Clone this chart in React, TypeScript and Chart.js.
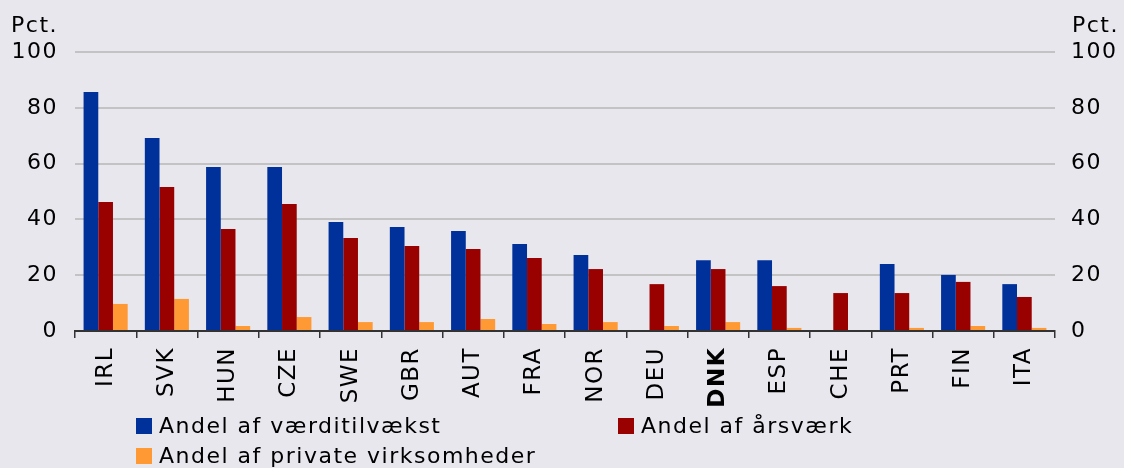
import React, { useEffect, useRef } from "react";
import { Chart, registerables } from "chart.js";

Chart.register(...registerables);

const categories = ["IRL", "SVK", "HUN", "CZE", "SWE", "GBR", "AUT", "FRA", "NOR", "DEU", "DNK", "ESP", "CHE", "PRT", "FIN", "ITA"];
const valueAdded = [85.7, 69.2, 58.8, 58.8, 39.1, 37.3, 35.8, 31.2, 27.2, null, 25.4, 25.4, null, 24.0, 20.1, 16.8];
const employment = [46.2, 51.6, 36.6, 45.5, 33.3, 30.5, 29.4, 26.2, 22.2, 16.8, 22.2, 16.1, 13.6, 13.6, 17.6, 12.2];
const firms = [9.7, 11.5, 1.8, 5.0, 3.2, 3.2, 4.3, 2.5, 3.2, 1.8, 3.2, 1.1, null, 1.1, 1.8, 1.1];
const seriesLabels = ["Andel af værditilvækst", "Andel af årsværk", "Andel af private virksomheder"];
const seriesColors = ["#00309A", "#990000", "#FF9933"];
const yMin = 0;
const yMax = 100;
const yStep = 20;
const unitLabel = "Pct.";
const boldCategory = "DNK";

const FONT = "'DejaVu Sans', Verdana, sans-serif";
const BG = "#E8E7EE";

const spacingPlugin = {
  id: "spacing",
  beforeLayout(chart: any) {
    chart.ctx.letterSpacing = "1.5px";
  },
  beforeDraw(chart: any) {
    chart.ctx.letterSpacing = "1.5px";
  },
};

const decorPlugin = {
  id: "decor",
  afterDraw(chart: any) {
    const ctx = chart.ctx;
    ctx.save();
    ctx.letterSpacing = "1.5px";
    ctx.fillStyle = "#000";
    ctx.font = `22px ${FONT}`;
    ctx.textBaseline = "alphabetic";
    // unit labels
    ctx.textAlign = "right";
    ctx.fillText(unitLabel, 58, 32);
    ctx.textAlign = "left";
    ctx.fillText(unitLabel, 1072, 32);
    // legend
    const pos = [
      { x: 136, y: 418 },
      { x: 618, y: 418 },
      { x: 136, y: 448 },
    ];
    chart.data.datasets.forEach((ds: any, i: number) => {
      const p = pos[i];
      ctx.fillStyle = ds.backgroundColor;
      ctx.fillRect(p.x, p.y, 16, 16);
      ctx.fillStyle = "#000";
      ctx.textAlign = "left";
      ctx.fillText(ds.label, p.x + 23, p.y + 15);
    });
    ctx.restore();
  },
};

export default function App() {
  const ref = useRef<HTMLCanvasElement>(null);

  useEffect(() => {
    document.body.style.margin = "0";
    document.body.style.background = BG;
    const canvas = ref.current!;
    const chart = new Chart(canvas, {
      type: "bar",
      data: {
        labels: categories,
        datasets: [valueAdded, employment, firms].map((d, i) => ({
          label: seriesLabels[i],
          data: d,
          backgroundColor: seriesColors[i],
          borderWidth: 0,
          categoryPercentage: 0.72,
          barPercentage: 1.0,
          yAxisID: "y",
        })),
      },
      options: {
        responsive: false,
        animation: false,
        devicePixelRatio: 1,
        layout: { padding: { top: 52, left: 0, right: 0, bottom: 0 } },
        plugins: {
          legend: { display: false },
          tooltip: { enabled: false },
        },
        scales: {
          x: {
            afterFit: (s: any) => {
              s.height = 137;
            },
            grid: {
              offset: true,
              drawOnChartArea: false,
              drawTicks: true,
              tickLength: 7,
              color: "#333333",
              lineWidth: 1.5,
            },
            border: { display: true, color: "#333333", width: 2 },
            ticks: {
              autoSkip: false,
              maxRotation: 90,
              minRotation: 90,
              padding: 9,
              color: "#000",
              font: (c: any) => ({
                family: FONT,
                size: 23,
                weight: c.tick && c.tick.label === boldCategory ? "bold" : "normal",
              }),
            },
          },
          y: {
            position: "left",
            min: yMin,
            max: yMax,
            afterFit: (s: any) => {
              s.width = 75;
            },
            grid: { color: "#C3C3C3", lineWidth: 2, drawTicks: false },
            border: { display: false },
            ticks: {
              stepSize: yStep,
              padding: 17,
              color: "#000",
              font: { family: FONT, size: 22 },
            },
          },
          y2: {
            position: "right",
            min: yMin,
            max: yMax,
            afterFit: (s: any) => {
              s.width = 69;
            },
            grid: { display: false, drawTicks: false },
            border: { display: false },
            ticks: {
              stepSize: yStep,
              padding: 16,
              color: "#000",
              font: { family: FONT, size: 22 },
            },
          },
        },
      },
      plugins: [spacingPlugin, decorPlugin],
    } as any);
    return () => chart.destroy();
  }, []);

  return (
    <div style={{ position: "absolute", left: 0, top: 0, width: 1124, height: 468, background: BG }}>
      <canvas ref={ref} width={1124} height={468} style={{ display: "block", width: 1124, height: 468 }} />
    </div>
  );
}
